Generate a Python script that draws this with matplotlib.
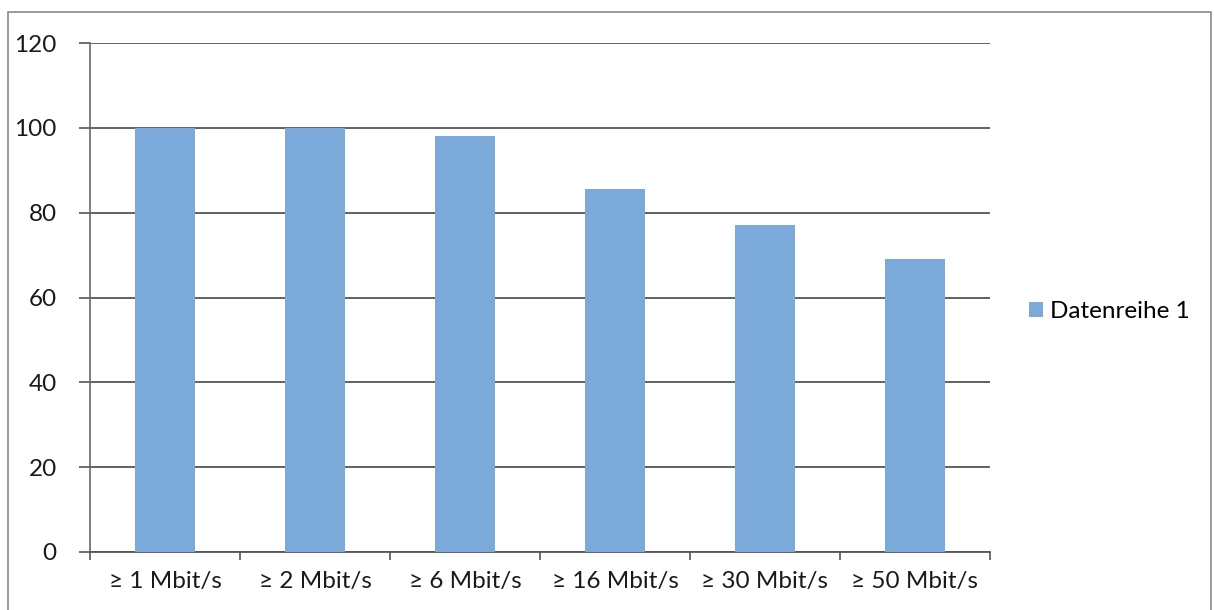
import matplotlib
matplotlib.use("Agg")
import matplotlib.pyplot as plt
from matplotlib.patches import Rectangle
import numpy as np

categories = ["≥ 1 Mbit/s", "≥ 2 Mbit/s", "≥ 6 Mbit/s", "≥ 16 Mbit/s", "≥ 30 Mbit/s", "≥ 50 Mbit/s"]
values = [100, 100, 98, 85.5, 77, 69]
series_name = "Datenreihe 1"
yticks = [0, 20, 40, 60, 80, 100, 120]

plt.rcParams['font.family'] = ['Lato', 'DejaVu Sans']

W, H = 1214, 610
fig = plt.figure(figsize=(W/100, H/100), dpi=100)
ax = fig.add_axes([90/W, 1-552/H, 900/W, (552-43)/H])

x = np.arange(len(categories))
bars = ax.bar(x, values, width=0.4, color="#7aa9da", label=series_name, zorder=3)

ax.set_xlim(-0.5, len(categories)-0.5)
ax.set_ylim(0, 120)
ax.set_yticks(yticks)
ax.set_yticklabels([str(t) for t in yticks], fontsize=17.5, color="#1a1a1a")
ax.set_xticks(x)
ax.set_xticklabels(categories, fontsize=17.5, color="#1a1a1a")
ax.set_xticks(np.arange(-0.5, len(categories), 1.0), minor=True)
ax.tick_params(axis='x', which='major', length=0, pad=14)
ax.tick_params(axis='x', which='minor', length=6, width=1.2, color="#555555", direction='out')
ax.tick_params(axis='y', length=8, width=1.2, color="#555555", pad=16)

ax.yaxis.grid(True, color="#555555", linewidth=1.3, zorder=0)
ax.set_axisbelow(True)
for s in ["top", "right"]:
    ax.spines[s].set_visible(False)
ax.spines["left"].set_color("#666666")
ax.spines["left"].set_linewidth(1.2)
ax.spines["bottom"].set_color("#555555")
ax.spines["bottom"].set_linewidth(1.3)

leg = fig.legend(handles=[bars], labels=[series_name], loc="center left",
                 bbox_to_anchor=(1029/W, 1-312/H), frameon=False, fontsize=17.5,
                 borderaxespad=0, borderpad=0,
                 handlelength=0.58, handleheight=0.58, handletextpad=0.3)

# outer chart frame
frame = Rectangle((8/W, -0.05), (1211-8)/W, (1-12/H)+0.05, transform=fig.transFigure,
                  fill=False, edgecolor="#8a8a8a", linewidth=1.2)
fig.patches.append(frame)

fig.savefig("out.png", dpi=100)
